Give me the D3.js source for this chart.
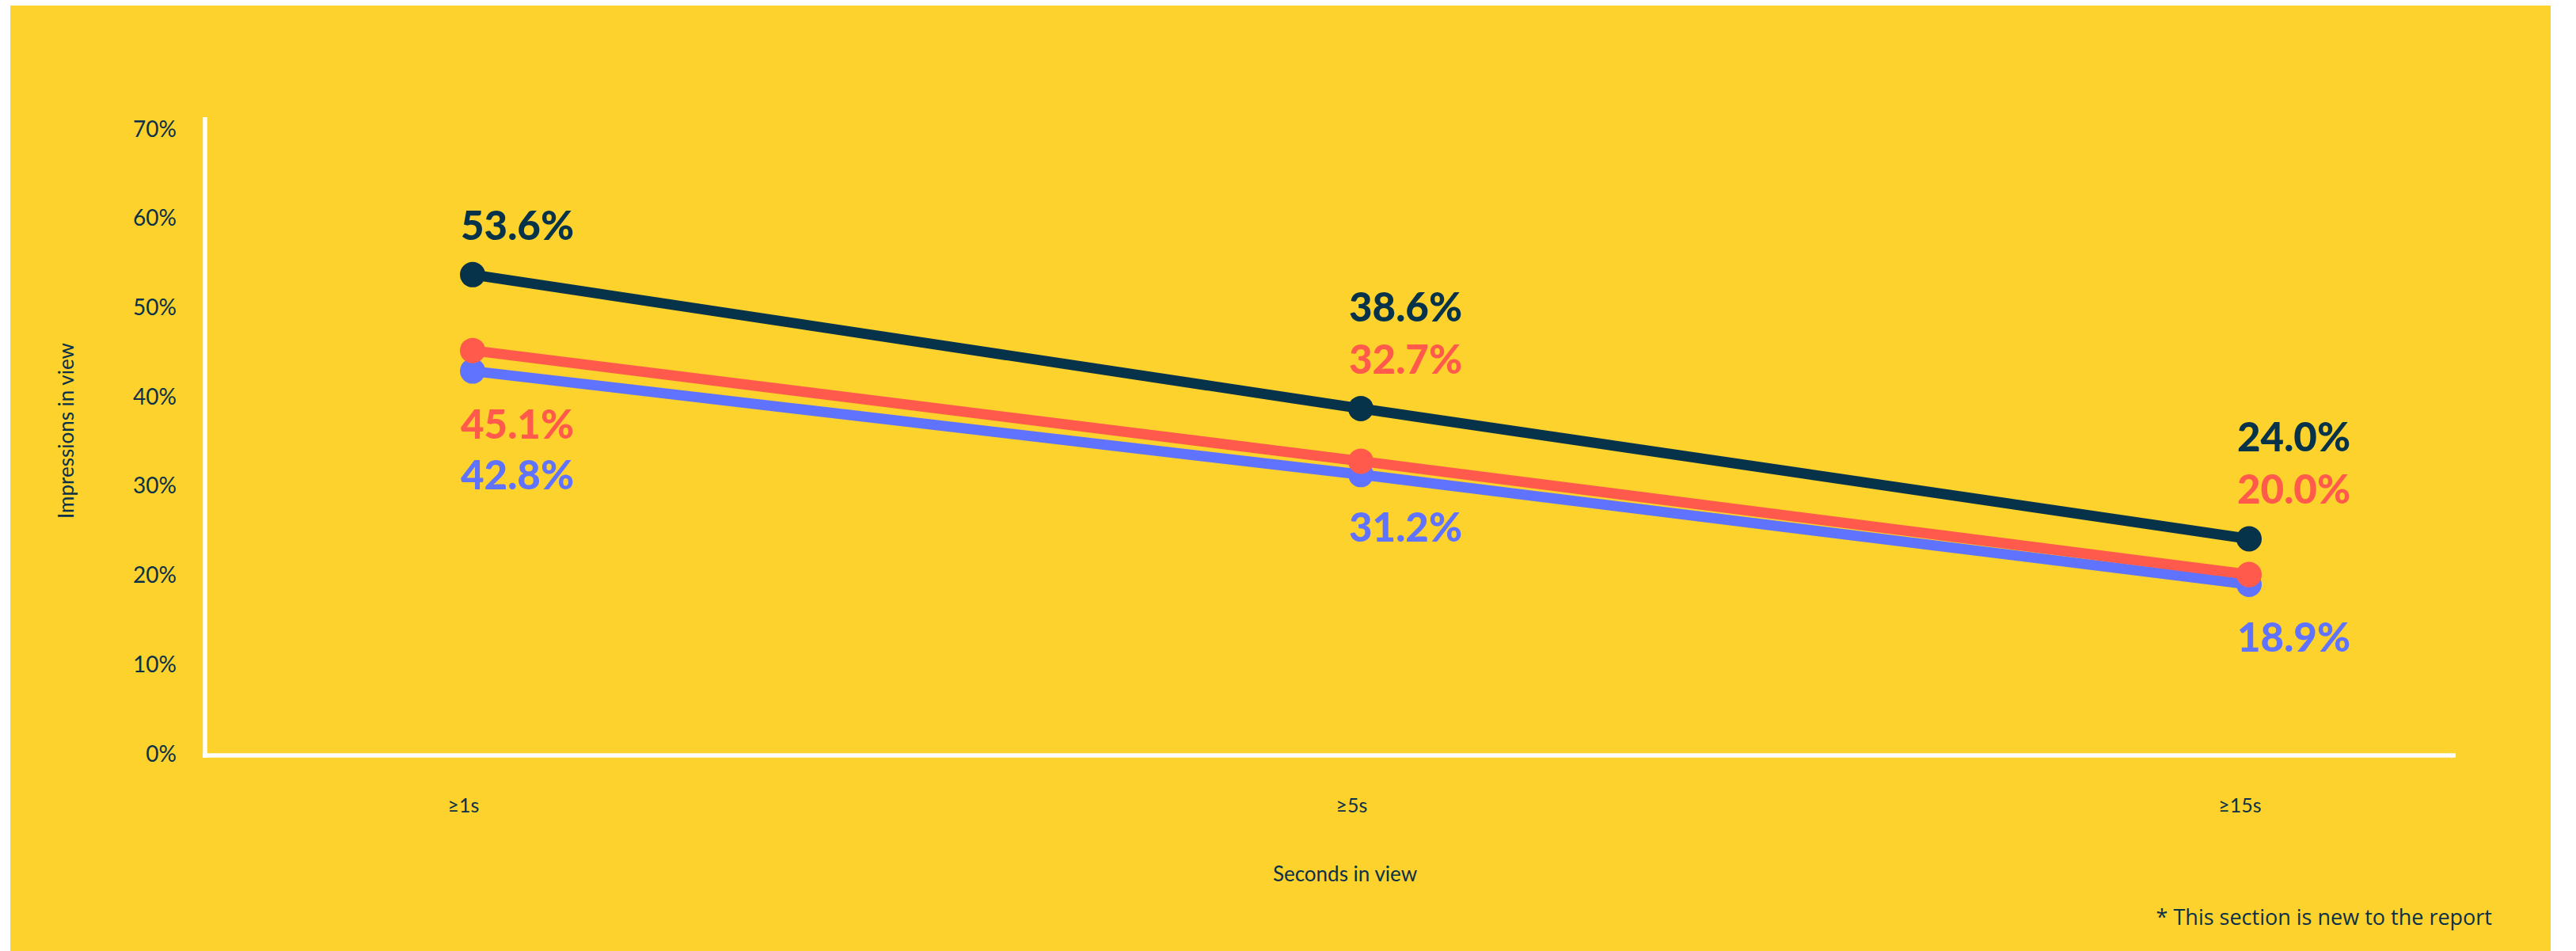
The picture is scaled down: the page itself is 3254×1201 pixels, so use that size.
<!DOCTYPE html>
<html>
<head>
<meta charset="utf-8">
<script src="https://cdn.jsdelivr.net/npm/d3@7"></script>
<style>
  html, body { margin: 0; padding: 0; background: #ffffff; }
  svg { display: block; }
</style>
</head>
<body>
<svg id="chart" width="3254" height="1201"></svg>
<script>
// Share of impressions still in view after each duration threshold
const categories = ["≥1s", "≥5s", "≥15s"];
const seriesNames = ["navy", "blue", "coral"];
const navyValues  = [53.6, 38.6, 24.0];
const blueValues  = [42.8, 31.2, 18.9];
const coralValues = [45.1, 32.7, 20.0];
const yTicks = [0, 10, 20, 30, 40, 50, 60, 70];

const colors = { navy: "#06334a", blue: "#5f73ff", coral: "#ff5a4b" };
const valuesBySeries = { navy: navyValues, blue: blueValues, coral: coralValues };
const ink = "#0b3049";
const bg = "#fed22c";

const svg = d3.select("#chart");
const W = 3254, H = 1201;

// yellow panel
svg.append("rect")
  .attr("x", 13).attr("y", 7)
  .attr("width", 3222 - 13).attr("height", H - 7)
  .attr("fill", bg);

const x = d3.scalePoint().domain(categories).range([597, 2841]);
const y = d3.scaleLinear().domain([0, 70]).range([951, 162]);

// y axis: tick labels only, white rule drawn separately
const yAxis = d3.axisLeft(y)
  .tickValues(yTicks)
  .tickFormat(d => d + "%")
  .tickSize(0)
  .tickPadding(0);
const gy = svg.append("g").attr("transform", "translate(223,0)").call(yAxis);
gy.select(".domain").remove();
gy.selectAll("text")
  .attr("fill", ink)
  .style("font-family", "Lato, 'Open Sans', sans-serif")
  .style("font-size", "28px")
  .attr("dy", "0.36em");

// x axis labels
const xAxis = d3.axisBottom(x).tickSize(0).tickPadding(0);
const gx = svg.append("g").attr("transform", "translate(-12,1008)").call(xAxis);
gx.select(".domain").remove();
gx.selectAll("text")
  .attr("fill", ink)
  .style("font-family", "Lato, sans-serif")
  .style("font-size", "25px")
  .attr("dy", "0.71em");

// white axis rules
svg.append("line")
  .attr("x1", 259).attr("x2", 259)
  .attr("y1", 148).attr("y2", 957)
  .attr("stroke", "#ffffff").attr("stroke-width", 5.5);
svg.append("line")
  .attr("x1", 256).attr("x2", 3102)
  .attr("y1", 954).attr("y2", 954)
  .attr("stroke", "#ffffff").attr("stroke-width", 5.5);

// axis titles
svg.append("text")
  .attr("transform", "translate(86,544) rotate(-90)")
  .attr("text-anchor", "middle")
  .attr("dominant-baseline", "middle")
  .attr("fill", ink)
  .style("font-family", "Lato, sans-serif")
  .style("font-size", "26px")
  .text("Impressions in view");

svg.append("text")
  .attr("x", 1699).attr("y", 1113)
  .attr("text-anchor", "middle")
  .attr("fill", ink)
  .style("font-family", "Lato, sans-serif")
  .style("font-size", "26px")
  .text("Seconds in view");

svg.append("text")
  .attr("x", 3148).attr("y", 1168)
  .attr("text-anchor", "end")
  .attr("fill", ink)
  .style("font-family", "'Open Sans', sans-serif")
  .style("font-size", "27px")
  .text("* This section is new to the report");

// lines and dots
const line = d3.line().x(d => x(d.cat)).y(d => y(d.v));
const drawOrder = ["navy", "blue", "coral"];
drawOrder.forEach(name => {
  const pts = categories.map((c, i) => ({ cat: c, v: valuesBySeries[name][i] }));
  const g = svg.append("g");
  g.append("path")
    .datum(pts)
    .attr("d", line)
    .attr("fill", "none")
    .attr("stroke", colors[name])
    .attr("stroke-width", 13);
  g.selectAll("circle")
    .data(pts)
    .join("circle")
    .attr("cx", d => x(d.cat))
    .attr("cy", d => y(d.v))
    .attr("r", 16)
    .attr("fill", colors[name]);
});

// value labels: stacked above the top point and below the bottom point
const labelFont = "Lato, sans-serif";
const lineGap = 66;
categories.forEach((c, i) => {
  const pts = seriesNames
    .map(name => ({ name, v: valuesBySeries[name][i] }))
    .sort((a, b) => b.v - a.v);
  const top = pts[0], mid = pts[1], bottom = pts[2];
  // middle label joins the upper stack when it sits close to the top line
  const midAbove = (top.v - mid.v) < 7;
  const above = midAbove ? [top, mid] : [top];
  const below = midAbove ? [bottom] : [mid, bottom];

  const xl = x(c) - 15;
  const topY = y(top.v);
  const botY = y(bottom.v);

  above.slice().reverse().forEach((p, k) => {
    svg.append("text")
      .attr("x", xl).attr("y", topY - 44 - k * lineGap)
      .attr("fill", colors[p.name])
      .style("font-family", labelFont)
      .style("font-weight", 900)
      .style("font-size", "51px")
      .text(p.v.toFixed(1) + "%");
  });
  below.forEach((p, k) => {
    svg.append("text")
      .attr("x", xl).attr("y", botY + 85 + k * 64)
      .attr("fill", colors[p.name])
      .style("font-family", labelFont)
      .style("font-weight", 900)
      .style("font-size", "51px")
      .text(p.v.toFixed(1) + "%");
  });
});
</script>
</body>
</html>
